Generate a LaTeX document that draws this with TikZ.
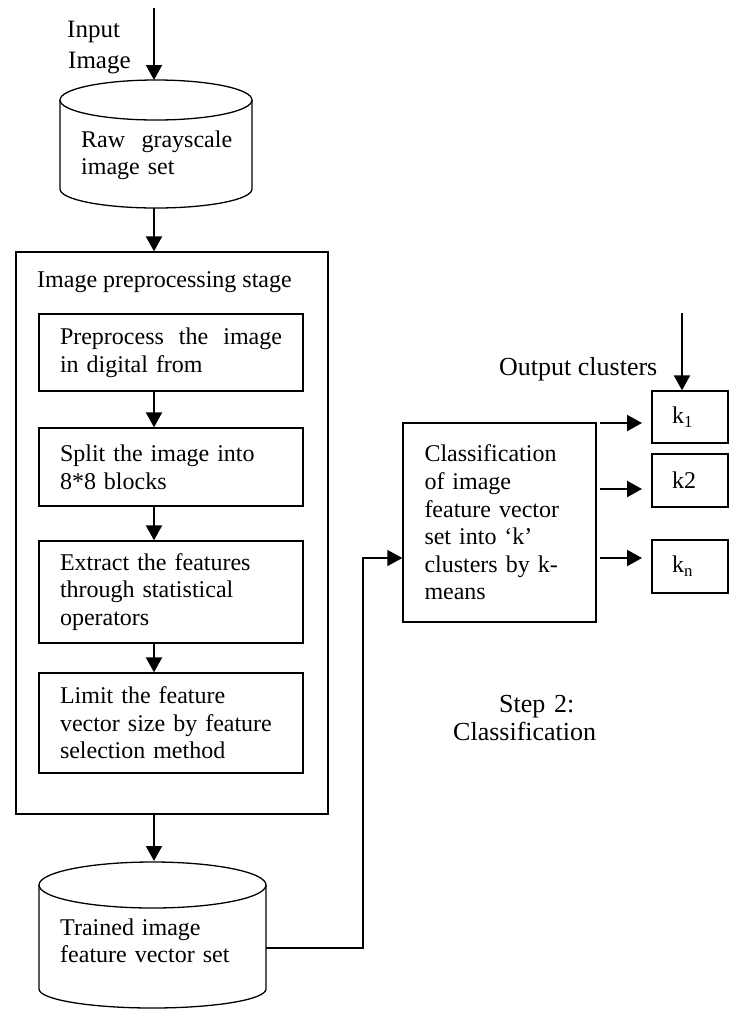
\documentclass[tikz,border=0pt]{standalone}
\usepackage{fontspec}
\setmainfont{Liberation Serif}
\usetikzlibrary{arrows.meta,calc}
\begin{document}
\begin{tikzpicture}[x=1pt,y=-1pt,
  box/.style={draw,line width=1.3pt,rectangle,inner sep=0pt,align=left,font=\fontsize{24}{27.6}\selectfont},
  txt/.style={inner sep=0pt,align=left,anchor=base west,font=\fontsize{24}{27.6}\selectfont},
  bigtxt/.style={inner sep=0pt,align=left,anchor=base west,font=\fontsize{26}{28}\selectfont},
  arr/.style={line width=2.2pt,-{Triangle[length=15pt,width=16pt]}},
  thinarr/.style={line width=1.4pt,-{Triangle[length=15pt,width=16pt]}},
  thinline/.style={line width=1.3pt}]
\useasboundingbox (0,0) rectangle (730,1010);

% input label
\node[bigtxt,text width=80pt,font=\fontsize{25}{31}\selectfont] (inlab) at (67,37) {Input\\\hspace*{1pt}Image};

% cylinder 1
\draw[thinline] (156,100) ellipse [x radius=96pt, y radius=20pt];
\draw[thinline] (60,100) -- (60,189) arc[start angle=180,end angle=360,x radius=96pt,y radius=19pt] -- (252,100);
\node[txt,text width=151pt] (raw) at (81,147) {Raw\hfill grayscale\\image set};
\coordinate (inS) at (154,8);
\coordinate (c1t) at (154,80);
\coordinate (c1b) at (154,208);

% preprocessing stage
\node[box,minimum width=312pt,minimum height=562pt] (pre) at (172,533) {};
\node[txt] (prelab) at (37,287) {Image preprocessing stage};
\node[box,text width=222pt,minimum width=264pt,minimum height=77pt] (b1) at (171,352.5)
  {Preprocess\hfill the\hfill image\\in digital from};
\node[box,text width=222pt,minimum width=264pt,minimum height=78pt] (b2) at (171,467)
  {Split the image into\\8*8 blocks};
\node[box,text width=222pt,minimum width=264pt,minimum height=102pt] (b3) at (171,592)
  {Extract the features\\through statistical\\operators};
\node[box,text width=222pt,minimum width=264pt,minimum height=100pt] (b4) at (171,723)
  {Limit the feature\\vector size by feature\\selection method};

% cylinder 2
\draw[thinline] (152.5,885) ellipse [x radius=113.5pt, y radius=23pt];
\draw[thinline] (39,885) -- (39,989) arc[start angle=180,end angle=360,x radius=113.5pt,y radius=19pt] -- (266,885);
\node[txt,text width=200pt] (tr) at (60,935) {Trained image\\feature vector set};
\coordinate (c2t) at (154,861);
\coordinate (c2r) at (266,948);

% classification
\node[box,text width=150pt,minimum width=193pt,minimum height=199pt] (cls) at (499.5,522.5)
  {Classification\\of image\\feature vector\\set into ‘k’\\clusters by k-\\means};
\node[box,text width=36pt,minimum width=76pt,minimum height=52pt] (k1) at (690,417) {k\textsubscript{1}};
\node[box,text width=36pt,minimum width=76pt,minimum height=53pt] (k2) at (690,480.5) {k2};
\node[box,text width=36pt,minimum width=76pt,minimum height=53pt] (kn) at (690,566.5) {k\textsubscript{n}};
\node[bigtxt] (outlab) at (499,375) {Output clusters};
\node[bigtxt,text width=170pt] (steplab) at (453,712) {\hspace*{46pt}Step 2:\\Classification};

\coordinate (outS) at (682,313);
\coordinate (jn) at (363,558);
\coordinate (r1s) at (600,423);
\coordinate (r1e) at (642,423);
\coordinate (r2s) at (600,489);
\coordinate (r2e) at (642,489);
\coordinate (r3s) at (600,558);
\coordinate (r3e) at (642,558);

% connectors
\draw[arr] (inS) -- (c1t);
\draw[arr] (c1b) -- (c1b |- pre.north);
\draw[arr] (b1.south -| c1t) -- (b2.north -| c1t);
\draw[arr] (b2.south -| c1t) -- (b3.north -| c1t);
\draw[arr] (b3.south -| c1t) -- (b4.north -| c1t);
\draw[arr] (pre.south -| c1t) -- (c2t);
\draw[thinarr] (c2r) -| (jn) -- (jn -| cls.west);
\draw[arr] (r1s) -- (r1e);
\draw[arr] (r2s) -- (r2e);
\draw[arr] (r3s) -- (r3e);
\draw[arr] (outS) -- (outS |- k1.north);
\end{tikzpicture}
\end{document}
